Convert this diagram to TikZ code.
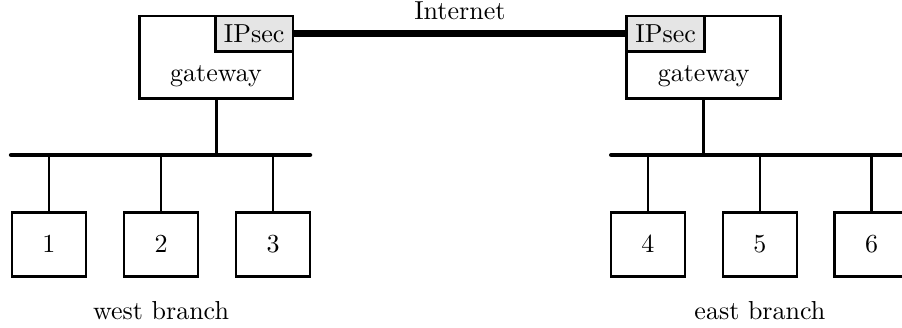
\documentclass[tikz,border=0pt]{standalone}
\usetikzlibrary{positioning,calc}
\begin{document}
\begin{tikzpicture}[
  host/.style={draw,line width=1.1pt,minimum width=1cm,minimum height=0.865cm},
  gwbox/.style={draw,line width=1.1pt,minimum width=2.08cm,minimum height=1.12cm},
  ipsec/.style={draw,line width=1.1pt,fill=gray!20},
  bus/.style={line width=1.7pt,line cap=round},
  link/.style={line width=1.1pt},
  inet/.style={line width=2.8pt}]
\useasboundingbox (0,0) rectangle (12.19,-4.43);

% gateways with IPsec
\node[gwbox] (wgw) at (2.92,-0.777) {};
\node[ipsec,anchor=north east] (wip) at (wgw.north east) {IPsec};
\node (wgwtext) at (2.92,-1.03) {gateway};
\node[gwbox] (egw) at (9.51,-0.777) {};
\node[ipsec,anchor=north west] (eip) at (egw.north west) {IPsec};
\node (egwtext) at (9.51,-1.03) {gateway};

\draw[inet] (wip.east) -- node[above=0.5pt] (inetlabel) {Internet} (eip.west);

% LAN buses
\coordinate (wbusl) at (0.149,-2.095);
\coordinate (wbusr) at (4.19,-2.095);
\coordinate (ebusl) at (8.26,-2.095);
\coordinate (ebusr) at (12.3,-2.095);
\draw[bus] (wbusl) -- (wbusr);
\draw[bus] (ebusl) -- (ebusr);
\draw[link] (wgw.south) -- (wgw.south |- wbusl);
\draw[link] (egw.south) -- (egw.south |- ebusl);

% hosts
\node[host] (h1) at (0.662,-3.3) {1};
\node[host] (h2) at (2.176,-3.3) {2};
\node[host] (h3) at (3.69,-3.3) {3};
\node[host] (h4) at (8.757,-3.3) {4};
\node[host] (h5) at (10.27,-3.3) {5};
\node[host] (h6) at (11.78,-3.3) {6};

\draw[link] (h1.north) -- (h1.north |- wbusl);
\draw[link] (h2.north) -- (h2.north |- wbusl);
\draw[link] (h3.north) -- (h3.north |- wbusl);
\draw[link] (h4.north) -- (h4.north |- ebusl);
\draw[link] (h5.north) -- (h5.north |- ebusl);
\draw[link] (h6.north) -- (h6.north |- ebusl);

\node (wlabel) at (2.176,-4.2) {west branch};
\node (elabel) at (10.27,-4.2) {east branch};
\end{tikzpicture}
\end{document}
